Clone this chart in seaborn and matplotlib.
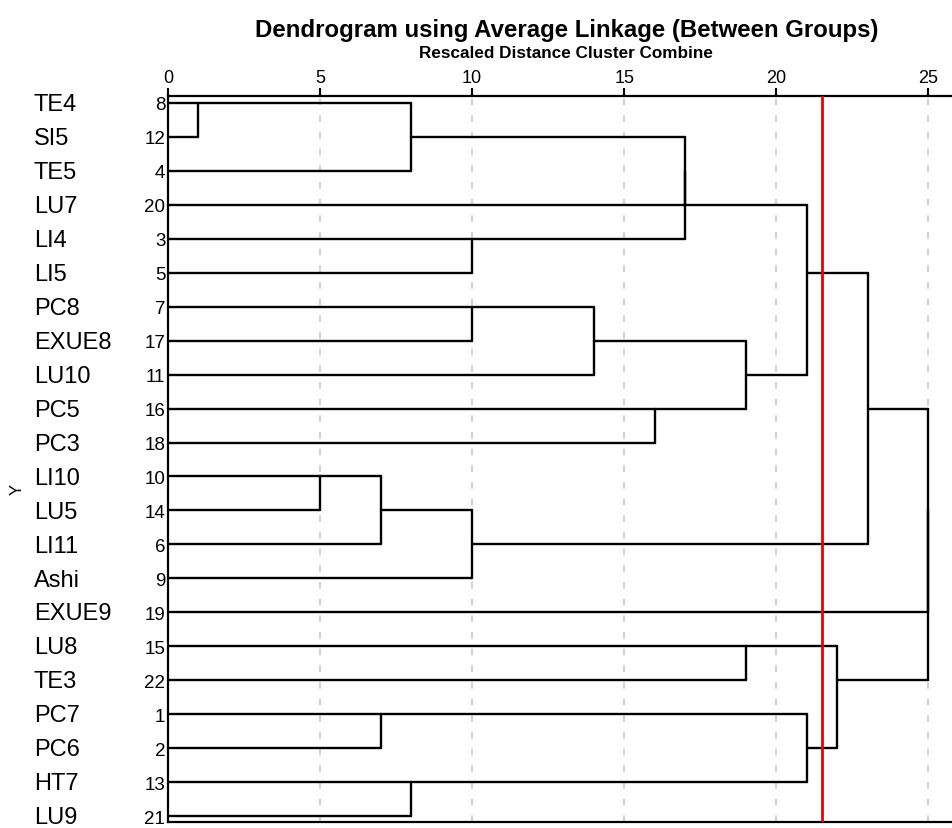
import numpy as np
import pandas as pd
import matplotlib
matplotlib.use("Agg")
import matplotlib.pyplot as plt
import matplotlib.transforms as mtrans
import seaborn as sns

# leaves, top to bottom as they appear in the dendrogram
leaf_names = ['TE4', 'SI5', 'TE5', 'LU7', 'LI4', 'LI5', 'PC8', 'EXUE8', 'LU10', 'PC5', 'PC3',
              'LI10', 'LU5', 'LI11', 'Ashi', 'EXUE9', 'LU8', 'TE3', 'PC7', 'PC6', 'HT7', 'LU9']
case_numbers = [8, 12, 4, 20, 3, 5, 7, 17, 11, 16, 18, 10, 14, 6, 9, 19, 15, 22, 1, 2, 13, 21]

# merges: node ids 0..21 are leaves, each merge creates node 22, 23, ...
merge_left = [0, 22, 4, 23, 25, 6, 27, 9, 28, 26, 11, 32, 33, 31, 16, 18, 20, 37, 36, 35, 41]
merge_right = [1, 2, 5, 3, 24, 7, 8, 10, 29, 30, 12, 13, 14, 34, 17, 19, 21, 38, 39, 15, 40]
merge_height = [1, 8, 10, 17, 17, 10, 14, 16, 19, 21, 5, 7, 10, 23, 19, 7, 8, 21, 22, 25, 25]

cut_height = 21.5
x_ticks = [0, 5, 10, 15, 20, 25]

# build line segments of the tree
n_leaves = len(leaf_names)
row = {i: i for i in range(n_leaves)}
height = {i: 0 for i in range(n_leaves)}
segs = []
for k, (a, b, h) in enumerate(zip(merge_left, merge_right, merge_height)):
    node = n_leaves + k
    for c in (a, b):
        segs.append([(height[c], row[c]), (h, row[c])])
    segs.append([(h, row[a]), (h, row[b])])
    row[node] = int(np.floor((row[a] + row[b]) / 2))
    height[node] = h

rows = []
for i, s in enumerate(segs):
    for x, y in s:
        rows.append({'x': x, 'y': y, 'seg': i})
df = pd.DataFrame(rows)

sns.set_style("white")
plt.rcParams['font.family'] = ['Liberation Sans', 'DejaVu Sans']
plt.rcParams['text.color'] = 'black'
plt.rcParams['xtick.color'] = 'black'
plt.rcParams['ytick.color'] = 'black'

fig = plt.figure(figsize=(9.53, 8.29), dpi=100)
ax = fig.add_axes([168 / 953, 1 - 823 / 829, 1 - 168 / 953 + 0.002, (823 - 97) / 829])

for xv in x_ticks[1:]:
    ax.axvline(xv, color='#c8c8c8', lw=1.2, ls=(0, (4, 6)), zorder=0)

sns.lineplot(data=df, x='x', y='y', units='seg', estimator=None, sort=False,
             color='black', lw=1.7, ax=ax, legend=False)

ax.axvline(cut_height, color='#ee0000', lw=2, zorder=3)

ax.set_xlim(0, 25.87)
ax.set_ylim(n_leaves - 1 + 0.17, -0.2)
ax.xaxis.tick_top()
ax.set_xticks(x_ticks)
ax.set_xticklabels([str(t) for t in x_ticks], fontsize=13)
ax.tick_params(axis='x', length=6, width=1.5, pad=1.5, top=True, bottom=False)
ax.set_yticks(range(n_leaves))
ax.set_yticklabels([str(c) for c in case_numbers], fontsize=13.5)
ax.tick_params(axis='y', length=0, pad=2)
ax.set_xlabel('')
ax.set_ylabel('')
for side in ['top', 'left', 'bottom']:
    ax.spines[side].set_visible(True)
    ax.spines[side].set_color('black')
    ax.spines[side].set_linewidth(1.6)
ax.spines['right'].set_visible(False)

# leaf names sit a pixel or so below their row
trans = ax.get_yaxis_transform() + mtrans.ScaledTranslation(0, -0.8 / 72, fig.dpi_scale_trans)
for i, name in enumerate(leaf_names):
    ax.text((34 - 168) / 785, i, name, transform=trans, ha='left', va='center',
            fontsize=17, clip_on=False)

fig.text(17 / 953, 1 - 489 / 829, 'Y', rotation=90, ha='center', va='center', fontsize=12)
fig.text(567 / 953, 1 - 30 / 829, 'Dendrogram using Average Linkage (Between Groups)',
         ha='center', va='center', fontsize=17.3, fontweight='bold')
fig.text(566 / 953, 1 - 54 / 829, 'Rescaled Distance Cluster Combine',
         ha='center', va='center', fontsize=12.3, fontweight='bold')

fig.savefig('out.png', dpi=100)
